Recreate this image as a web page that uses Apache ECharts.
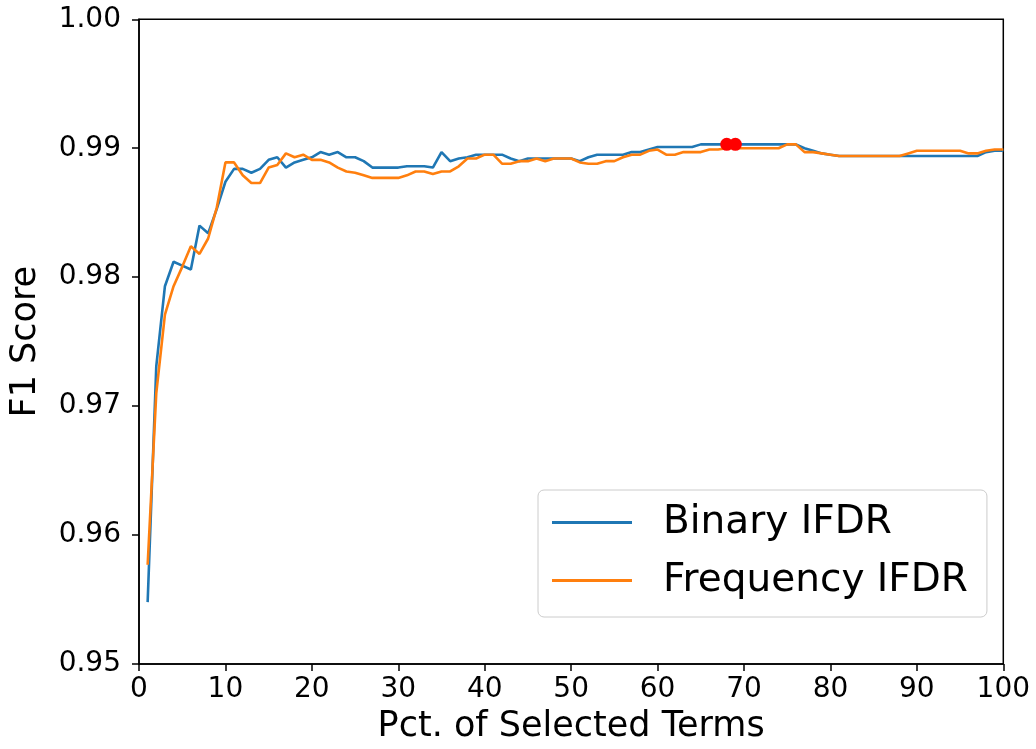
<!DOCTYPE html>
<html>
<head>
<meta charset="utf-8">
<script src="https://cdn.jsdelivr.net/npm/echarts@6/dist/echarts.min.js"></script>
<style>
html,body{margin:0;padding:0;background:#fff;}
#chart{width:1036px;height:749px;}
</style>
</head>
<body>
<div id="chart"></div>
<script>
// ---- data ----
const pct = [
  1,2,3,4,5,6,7,8,9,10,
  11,12,13,14,15,16,17,18,19,20,
  21,22,23,24,25,26,27,28,29,30,
  31,32,33,34,35,36,37,38,39,40,
  41,42,43,44,45,46,47,48,49,50,
  51,52,53,54,55,56,57,58,59,60,
  61,62,63,64,65,66,67,68,69,70,
  71,72,73,74,75,76,77,78,79,80,
  81,82,83,84,85,86,87,88,89,90,
  91,92,93,94,95,96,97,98,99,100
];
const binaryIFDR = [
  0.9548,0.9731,0.9793,0.9812,0.9809,0.9806,0.9840,0.9834,0.9853,0.9874,
  0.9884,0.9884,0.9881,0.9884,0.9891,0.9893,0.9885,0.9889,0.9891,0.9893,
  0.9897,0.9895,0.9897,0.9893,0.9893,0.9890,0.9885,0.9885,0.9885,0.9885,
  0.9886,0.9886,0.9886,0.9885,0.9897,0.9890,0.9892,0.9893,0.9895,0.9895,
  0.9895,0.9895,0.9892,0.9890,0.9892,0.9892,0.9892,0.9892,0.9892,0.9892,
  0.9890,0.9893,0.9895,0.9895,0.9895,0.9895,0.9897,0.9897,0.9899,0.9901,
  0.9901,0.9901,0.9901,0.9901,0.9903,0.9903,0.9903,0.9903,0.9903,0.9903,
  0.9903,0.9903,0.9903,0.9903,0.9903,0.9903,0.9900,0.9898,0.9896,0.9895,
  0.9894,0.9894,0.9894,0.9894,0.9894,0.9894,0.9894,0.9894,0.9894,0.9894,
  0.9894,0.9894,0.9894,0.9894,0.9894,0.9894,0.9894,0.9897,0.9898,0.9898
];
const frequencyIFDR = [
  0.9577,0.9710,0.9771,0.9793,0.9808,0.9824,0.9818,0.9830,0.9854,0.9889,
  0.9889,0.9879,0.9873,0.9873,0.9885,0.9887,0.9896,0.9893,0.9895,0.9891,
  0.9891,0.9889,0.9885,0.9882,0.9881,0.9879,0.9877,0.9877,0.9877,0.9877,
  0.9879,0.9882,0.9882,0.9880,0.9882,0.9882,0.9886,0.9892,0.9892,0.9895,
  0.9895,0.9888,0.9888,0.9890,0.9890,0.9892,0.9890,0.9892,0.9892,0.9892,
  0.9889,0.9888,0.9888,0.9890,0.9890,0.9893,0.9895,0.9895,0.9898,0.9899,
  0.9895,0.9895,0.9897,0.9897,0.9897,0.9899,0.9899,0.9900,0.9900,0.9900,
  0.9900,0.9900,0.9900,0.9900,0.9903,0.9903,0.9897,0.9897,0.9896,0.9895,
  0.9894,0.9894,0.9894,0.9894,0.9894,0.9894,0.9894,0.9894,0.9896,0.9898,
  0.9898,0.9898,0.9898,0.9898,0.9898,0.9896,0.9896,0.9898,0.9899,0.9899
];
const peakX = [68, 69];
const peakY = [0.9903, 0.9903];
const seriesNames = ['Binary IFDR', 'Frequency IFDR'];
const xTitle = 'Pct. of Selected Terms';
const yTitle = 'F1 Score';

// ---- build ----
const FONT = 'DejaVu Sans';
const pairs = (xs, ys) => xs.map((x, i) => [x, ys[i]]);

const chart = echarts.init(document.getElementById('chart'), null, {renderer: 'canvas'});
chart.setOption({
  animation: false,
  backgroundColor: '#ffffff',
  grid: {
    left: 138, right: 32.7, top: 19.3, bottom: 84.7,
    show: true, borderColor: '#000', borderWidth: 1.5, backgroundColor: 'transparent'
  },
  xAxis: {
    type: 'value', min: 0, max: 100, interval: 10,
    name: xTitle, nameLocation: 'middle', nameGap: 45,
    nameTextStyle: {fontFamily: FONT, fontSize: 35, color: '#000'},
    axisLine: {show: true, onZero: false, lineStyle: {color: '#000', width: 1.5}},
    axisTick: {show: true, inside: false, length: 7, lineStyle: {color: '#000', width: 1.5}},
    axisLabel: {fontFamily: FONT, fontSize: 28, color: '#000', margin: 12},
    splitLine: {show: false}
  },
  yAxis: {
    type: 'value', min: 0.95, max: 1.00, interval: 0.01,
    name: yTitle, nameLocation: 'middle', nameRotate: 90, nameGap: 96,
    nameTextStyle: {fontFamily: FONT, fontSize: 35, color: '#000'},
    axisLine: {show: true, onZero: false, lineStyle: {color: '#000', width: 1.5}},
    axisTick: {show: true, inside: false, length: 7, lineStyle: {color: '#000', width: 1.5}},
    axisLabel: {fontFamily: FONT, fontSize: 28, color: '#000', margin: 18,
      formatter: v => v.toFixed(2)},
    splitLine: {show: false}
  },
  legend: {
    data: seriesNames,
    orient: 'vertical',
    left: 538, top: 490,
    padding: [13, 19, 17, 14],
    itemGap: 19,
    itemWidth: 80, itemHeight: 3,
    icon: 'rect',
    backgroundColor: 'rgba(255,255,255,0.8)',
    borderColor: '#cccccc', borderWidth: 1, borderRadius: 6,
    textStyle: {fontFamily: FONT, fontSize: 39, color: '#000', padding: [0, 0, 0, 26]}
  },
  series: [
    {
      name: seriesNames[0], type: 'line', data: pairs(pct, binaryIFDR),
      showSymbol: false, symbol: 'none', color: '#1f77b4',
      lineStyle: {width: 2.6, color: '#1f77b4'}, z: 2
    },
    {
      name: seriesNames[1], type: 'line', data: pairs(pct, frequencyIFDR),
      showSymbol: false, symbol: 'none', color: '#ff7f0e',
      lineStyle: {width: 2.6, color: '#ff7f0e'}, z: 3
    },
    {
      name: 'peak', type: 'scatter', data: pairs(peakX, peakY),
      symbol: 'circle', symbolSize: 13, itemStyle: {color: '#ff0000', opacity: 1}, z: 4
    }
  ]
});
</script>
</body>
</html>
